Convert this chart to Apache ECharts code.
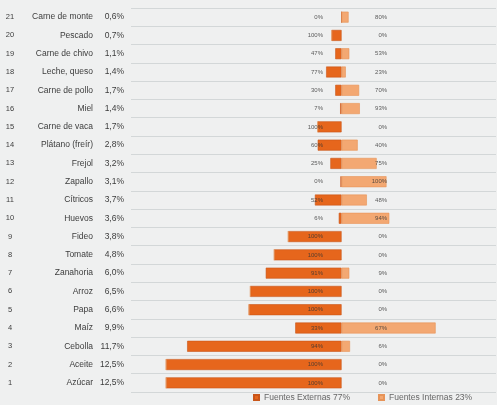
<!DOCTYPE html>
<html><head><meta charset="utf-8">
<script src="https://cdn.jsdelivr.net/npm/echarts@6/dist/echarts.min.js"></script>
<style>html,body{margin:0;padding:0;background:#eff0f0}#c{width:497px;height:405px}</style>
</head><body><div id="c"></div>
<script>
// Row 1 (bottom) .. row 21 (top)
const rankNumbers = ['1','2','3','4','5','6','7','8','9','10','11','12','13','14','15','16','17','18','19','20','21'];
const products = ['Azúcar','Aceite','Cebolla','Maíz','Papa','Arroz','Zanahoria','Tomate','Fideo','Huevos','Cítricos','Zapallo','Frejol','Plátano (freír)','Carne de vaca','Miel','Carne de pollo','Leche, queso','Carne de chivo','Pescado','Carne de monte'];
const shares = ['12,5%','12,5%','11,7%','9,9%','6,6%','6,5%','6,0%','4,8%','3,8%','3,6%','3,7%','3,1%','3,2%','2,8%','1,7%','1,4%','1,7%','1,4%','1,1%','0,7%','0,6%'];
// bar lengths (share points)
const externalValues = [12.5,12.5,11.0,3.3,6.6,6.5,5.4,4.8,3.8,0.2,1.9,0.08,0.8,1.7,1.7,0.1,0.45,1.1,0.45,0.7,0];
const internalValues = [0,0,0.6,6.7,0,0,0.55,0,0,3.4,1.8,3.2,2.5,1.15,0,1.3,1.25,0.3,0.55,0,0.5];
const externalLabels = ['100%','100%','94%','33%','100%','100%','91%','100%','100%','6%','52%','0%','25%','60%','100%','7%','30%','77%','47%','100%','0%'];
const internalLabels = ['0%','0%','6%','67%','0%','0%','9%','0%','0%','94%','48%','100%','75%','40%','0%','93%','70%','23%','53%','0%','80%'];
const seriesNames = ['Fuentes Externas 77%','Fuentes Internas 23%'];

const cats = products.map((p,i)=>i);
const chart = echarts.init(document.getElementById('c'));
const LEFT_POS = -1.32, RIGHT_POS = 3.24;
chart.setOption({
  backgroundColor:'#eff0f0',
  animation:false,
  textStyle:{fontFamily:'Liberation Sans'},
  grid:{left:131,right:1,top:8,bottom:13,containLabel:false},
  xAxis:{type:'value',min:-15,max:11,show:false},
  yAxis:{type:'category',data:cats,boundaryGap:true,
    axisLine:{show:false},axisTick:{show:false},
    splitLine:{show:true,lineStyle:{color:'#d3d7d8',width:1}},
    axisLabel:{margin:7,
      formatter:(v,i)=>'{n|'+rankNumbers[i]+'}{c|'+products[i]+'}{p|'+shares[i]+'}',
      rich:{
        n:{width:18,align:'center',fontSize:7.5,color:'#3c3c3c',fontFamily:'Liberation Sans'},
        c:{width:74,align:'right',fontSize:8.5,color:'#3c3c3c',fontFamily:'Liberation Sans'},
        p:{width:31,align:'right',fontSize:8.5,color:'#3c3c3c',fontFamily:'Liberation Sans'}
      }}},
  legend:{bottom:-2,left:248,itemWidth:5,itemHeight:5,itemGap:28,
    textStyle:{fontSize:8.5,color:'#666',fontFamily:'Liberation Sans'},
    data:seriesNames,icon:'rect'},
  series:[
    {name:seriesNames[0],type:'bar',stack:'s',barWidth:'60%',
     data:externalValues.map(v=>-v),
     itemStyle:{color:'#e6661c',borderColor:'#c9561a',borderWidth:0.6}},
    {name:seriesNames[1],type:'bar',stack:'s',barWidth:'60%',
     data:internalValues,
     itemStyle:{color:'#f3a872',borderColor:'#e79458',borderWidth:0.6}},
    {type:'scatter',symbolSize:0,silent:true,z:5,
     data:externalLabels.map((l,i)=>[LEFT_POS,i]),
     label:{show:true,position:'left',distance:0,fontSize:6,color:'#333',
       formatter:p=>externalLabels[p.dataIndex]}},
    {type:'scatter',symbolSize:0,silent:true,z:5,
     data:internalLabels.map((l,i)=>[RIGHT_POS,i]),
     label:{show:true,position:'left',distance:0,fontSize:6,color:'#333',
       formatter:p=>internalLabels[p.dataIndex]}}
  ]
});
</script></body></html>
